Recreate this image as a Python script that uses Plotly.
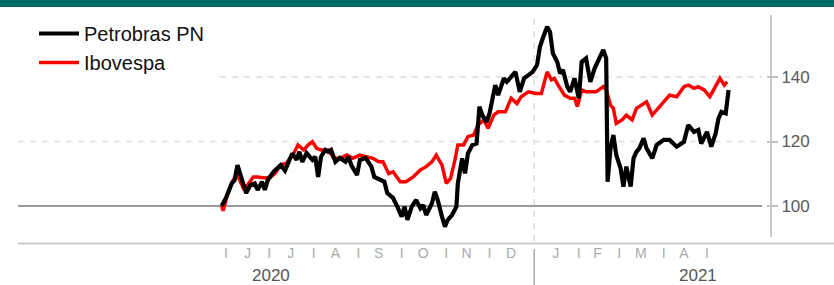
import pandas as pd
import plotly.graph_objects as go

# ---------------- data (index, start = 100) ----------------
START = pd.Timestamp("2020-06-01")  # day 0 of the offsets below

petro_days = [-3, 0, 4, 6, 8, 11, 14, 17, 20, 22, 25, 27, 29, 33, 38, 41, 43, 46, 49, 51,
              53, 56, 60, 62, 64, 66, 69, 71, 73, 76, 79, 83, 85, 87, 91, 93, 97, 99, 101, 103,
              107, 110, 112, 116, 119, 122, 124, 126, 129, 132, 135, 137, 139, 143, 145, 147,
              150, 152, 154, 157, 160, 161, 164, 166, 168, 171, 174, 176, 178, 181, 183, 187,
              189, 193, 195, 199, 201, 204, 207, 210, 213, 216, 218, 220, 223, 225, 227, 230,
              232, 234, 237, 239, 242, 245, 247, 250, 253, 256, 260, 262, 264, 265, 267, 269,
              271, 274, 276, 278, 281, 283, 285, 287, 290, 292, 296, 299, 304, 308, 313, 318,
              321, 325, 328, 330, 334, 337, 340, 342, 344, 347, 349]
petro_vals = [100, 102.5, 107, 108, 112.7, 108, 104, 106.5, 107, 105, 107.5, 105, 108, 110.6,
              112.7, 111, 113.3, 116.3, 114.3, 116.8, 113.7, 116.4, 114.3, 115.3, 109, 115.3,
              117.4, 116.8, 117.4, 113.7, 114.9, 113.7, 115.3, 112.7, 109.6, 114.3, 114.9, 113.7,
              112.2, 109, 108, 107.5, 104, 102.5, 99.8, 96.7, 99.8, 95.7, 99.8, 101.9, 99.3,
              100.3, 97.2, 100.8, 104.4, 101.9, 96.7, 93.6, 95.7, 97.2, 99.8, 107, 114.8, 110.1,
              116.3, 118.9, 119.4, 130.8, 128.2, 126, 128.7, 137.5, 134.4, 139.6, 138.5, 140.6,
              141.6, 135.4, 139.6, 140.6, 141.6, 143.7, 149.4, 152, 155.6, 154, 147.3, 144.7,
              141.1, 142.2, 137, 135.4, 139.6, 133.4, 144.7, 145.8, 138.5, 142.7, 146.8, 148.4,
              145.8, 107.5, 117.9, 122, 115.8, 111.7, 106, 112.2, 106, 114.8, 116.8, 117.9, 121,
              117.9, 114.8, 118.9, 120.5, 120.5, 118.4, 119.9, 125.1, 123, 123.6, 119.4, 123,
              118.4, 122.5, 127.2, 129.2, 128.7, 136]

ibov_days = [-3, -2, 1, 5, 8, 12, 15, 19, 22, 27, 31, 34, 38, 42, 47, 50, 54, 57, 60, 63, 66,
             71, 75, 79, 84, 88, 93, 98, 102, 106, 109, 113, 116, 121, 125, 130, 135, 139, 143,
             146, 150, 153, 156, 159, 161, 165, 168, 172, 175, 179, 182, 186, 189, 194, 198,
             202, 205, 210, 215, 219, 223, 226, 228, 232, 235, 239, 242, 244, 247, 250, 254,
             257, 262, 264, 267, 269, 271, 275, 278, 282, 285, 289, 292, 296, 299, 304, 308,
             313, 318, 321, 325, 328, 332, 336, 340, 343, 346, 348]
ibov_vals = [100, 98.5, 103.4, 108, 109.6, 105.6, 106.5, 109, 109, 108.7, 109, 110.1, 112.7,
             113.3, 116.3, 118.9, 117.4, 118.9, 119.9, 117.9, 117.4, 117.4, 114.8, 114.8, 115.8,
             114.8, 115.8, 115.3, 114.8, 113.7, 113.7, 110.1, 110.6, 107.5, 107.5, 109, 111.2,
             112.2, 113.7, 115.8, 112.7, 107, 108.6, 114.3, 118.9, 118.9, 121.5, 122, 125.1,
             126.7, 124.1, 128.2, 129.2, 129.2, 133.4, 131.8, 133.9, 135.4, 134.9, 134.9, 141.6,
             139.1, 139.6, 136.5, 134.4, 133.4, 133.4, 130.8, 136, 135.4, 135.4, 135.4, 137, 136,
             131.3, 130.3, 125.6, 126.7, 128.2, 126.7, 130.3, 131.3, 132.3, 128.2, 129.8, 132.3,
             134.4, 133.9, 137, 137.5, 136.5, 137, 136, 133.9, 137, 139.6, 137.5, 138.5]

series_names = ["Petrobras PN", "Ibovespa"]
y_ticks = [100, 120, 140]
month_starts = ["2020-06-01", "2020-07-01", "2020-08-01", "2020-09-01", "2020-10-01",
                "2020-11-01", "2020-12-01", "2021-02-01", "2021-03-01", "2021-04-01",
                "2021-05-01"]
month_mids = ["2020-06-16", "2020-07-16", "2020-08-16", "2020-09-15", "2020-10-16",
              "2020-11-15", "2020-12-16", "2021-01-16", "2021-02-14", "2021-03-16",
              "2021-04-15"]
month_letters = ["J", "J", "A", "S", "O", "N", "D", "J", "F", "M", "A"]
year_labels = ["2020", "2021"]
year_label_pos = ["2020-07-02", "2021-04-25"]
year_break = "2021-01-01"

# ---------------- figure ----------------
W, H = 834, 285
def px_x(p):
    return p / W
def px_y(p):
    return (H - p) / H

petro_dates = START + pd.to_timedelta(petro_days, unit="D")
ibov_dates = START + pd.to_timedelta(ibov_days, unit="D")

fig = go.Figure()
fig.add_trace(go.Scatter(x=ibov_dates, y=ibov_vals, name=series_names[1], mode="lines",
                         line=dict(color="#ff0000", width=3.5), legendrank=2))
fig.add_trace(go.Scatter(x=petro_dates, y=petro_vals, name=series_names[0], mode="lines",
                         line=dict(color="#000000", width=4.2), legendrank=1))

x_range = [START + pd.Timedelta(days=-144.4), START + pd.Timedelta(days=372.2)]

shapes = []
# header bar
shapes.append(dict(type="rect", xref="paper", yref="paper", x0=0, x1=1, y0=px_y(7), y1=1,
                   fillcolor="#006A66", line=dict(width=0), layer="above"))
# horizontal grid / baseline
for v in y_ticks:
    if v == 100:
        shapes.append(dict(type="line", xref="paper", yref="y", x0=px_x(18), x1=px_x(762),
                           y0=v, y1=v, line=dict(color="#999999", width=2), layer="below"))
    else:
        x0 = px_x(220) if v == 140 else px_x(18)
        shapes.append(dict(type="line", xref="paper", yref="y", x0=x0, x1=px_x(762),
                           y0=v, y1=v, line=dict(color="#dddddd", width=1.5, dash="6px,6px"),
                           layer="below"))
# year break: dashed in plot, solid below axis
shapes.append(dict(type="line", xref="x", yref="paper", x0=year_break, x1=year_break,
                   y0=px_y(241), y1=px_y(15), line=dict(color="#dddddd", width=1.5, dash="6px,6px"),
                   layer="below"))
shapes.append(dict(type="line", xref="x", yref="paper", x0=year_break, x1=year_break,
                   y0=0, y1=px_y(249), line=dict(color="#aaaaaa", width=1.5)))
# bottom axis line
shapes.append(dict(type="line", xref="paper", yref="paper", x0=px_x(18), x1=1,
                   y0=px_y(243.5), y1=px_y(243.5), line=dict(color="#cccccc", width=2)))
# right vertical axis line
shapes.append(dict(type="line", xref="paper", yref="paper", x0=px_x(771), x1=px_x(771),
                   y0=px_y(237), y1=px_y(15), line=dict(color="#c8c8c8", width=2)))

tickvals = month_starts + month_mids
ticktext = ["I"] * len(month_starts) + month_letters

annotations = [dict(x=pos, y=px_y(275.5), xref="x", yref="paper", text=lab, showarrow=False,
                    xanchor="center", yanchor="middle", borderpad=0,
                    font=dict(size=17, color="#555555"))
               for pos, lab in zip(year_label_pos, year_labels)]

fig.update_layout(
    width=W, height=H,
    margin=dict(l=0, r=0, t=0, b=0, autoexpand=False),
    paper_bgcolor="white", plot_bgcolor="rgba(0,0,0,0)",
    font=dict(family="Liberation Sans, Arial, sans-serif"),
    showlegend=True,
    legend=dict(x=px_x(34), y=px_y(14), xanchor="left", yanchor="top",
                bgcolor="white", borderwidth=0, itemwidth=40,
                font=dict(size=20, color="#111111"), tracegroupgap=0),
    xaxis=dict(domain=[px_x(18), px_x(762)], range=x_range, type="date",
               showgrid=False, zeroline=False, showline=False, automargin=False,
               tickmode="array", tickvals=tickvals, ticktext=ticktext,
               ticks="", tickfont=dict(size=14, color="#aaaaaa"), ticklabelstandoff=0),
    yaxis=dict(domain=[px_y(243), px_y(8)], range=[88.53, 161.4],
               anchor="free", position=px_x(766), side="right", automargin=False,
               showgrid=False, zeroline=False, showline=False,
               tickmode="array", tickvals=y_ticks, ticks="outside", ticklen=11,
               tickcolor="#c0c0c0", tickwidth=1.5,
               tickfont=dict(size=17, color="#5a5a5a")),
    shapes=shapes,
    annotations=annotations,
)

fig.write_html("out.html", config={"displayModeBar": False},
               post_script="document.body.style.margin='0';document.body.style.padding='0';")
